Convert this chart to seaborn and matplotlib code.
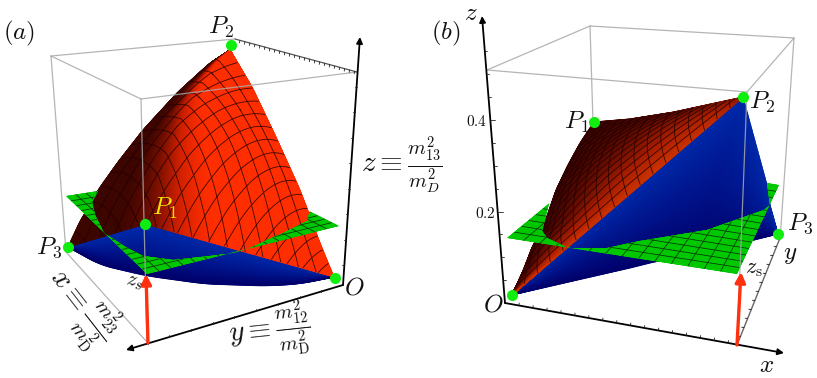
import numpy as np
import matplotlib
matplotlib.use("Agg")
import matplotlib.pyplot as plt
from matplotlib.colors import LinearSegmentedColormap
from matplotlib.patches import Polygon
import pandas as pd
import seaborn as sns

# ---------- picture read-offs, panel (a) ----------
a_left_edge = [(230, 50), (210, 63), (178, 92), (143, 130), (118, 162), (98, 190), (90, 205), (80, 221), (68, 247)]
a_right_edge = [(230, 50), (252, 87), (275, 135), (300, 190), (308, 211), (320, 243), (334, 277)]
a_front_edge = [(68, 247), (145, 224), (334, 277)]
a_blue_arc = [(68, 247), (100, 265), (147, 276), (205, 284), (267, 286), (300, 284), (334, 277)]
a_green_corners = [(66, 196), (225, 171), (147, 274), (339, 226)]  # left, back, front, right
a_green_visible = [(66, 196), (98, 191), (92, 202), (95, 215), (104, 233), (127, 248), (143, 256), (173, 260),
                   (210, 256), (235, 253), (250, 248), (283, 233), (307, 221), (310, 211), (339, 226), (147, 274)]
a_points = {"P1": (145, 224), "P2": (231, 45), "P3": (68, 247), "O": (335, 278)}
a_box = [[(51, 56), (141, 99)], [(51, 56), (235, 39)], [(141, 99), (357, 72)],
         [(51, 56), (66, 252)], [(141, 99), (147, 342)], [(66, 252), (147, 342)]]
a_back_axis = [(235, 39), (357, 72)]
a_origin = (343, 285)
a_z_tip = (360, 37)
a_y_tip = (126, 350)

# ---------- picture read-offs, panel (b) ----------
b_left_edge = [(512, 295), (523, 271), (533, 245), (542, 231), (556, 190), (568, 165), (580, 143), (594, 122)]
b_diagonal = [(512, 295), (743, 97)]
b_top_edge = [(594, 122), (630, 119), (674, 112), (743, 97)]
b_blue_top = [(512, 295), (743, 97), (767, 185), (770, 205), (778, 234)]
b_blue_low = [(512, 295), (630, 268), (650, 263), (754, 240), (778, 234)]
b_green_corners = [(507, 238), (608, 156), (737, 274), (779, 185)]
b_green_visible = [(507, 238), (549, 203), (542, 231), (547, 238), (568, 248), (607, 248), (640, 241), (707, 230),
                   (764, 210), (770, 205), (767, 183), (779, 185), (737, 274)]
b_points = {"O": (512, 295), "P1": (594, 122), "P2": (743, 97), "P3": (778, 234)}
b_box = [[(487, 70), (590, 26)], [(590, 26), (794, 38)], [(794, 38), (747, 92)], [(487, 70), (747, 92)],
         [(590, 26), (593, 122)], [(794, 38), (780, 240)], [(747, 92), (737, 345)]]
b_y_axis = [(737, 345), (780, 238)]
b_origin = (505, 303)
b_z_tip = (482, 16)
b_x_tip = (784, 353)
b_z_major = [0.2, 0.4]
b_z_minor = [0.05, 0.1, 0.15, 0.25, 0.3, 0.35, 0.45, 0.5, 0.55]

RED_A = ["#3c0500", "#7a1000", "#d02000", "#ff2e00"]
RED_B = ["#3a0300", "#701000", "#a81e00", "#c83000"]
BLUE = ["#00006a", "#00148c", "#0028a8"]
GREEN = "#00c800"
DOT = "#10ee10"
ARROW = "#ff3010"
GRAY = "#a8a8a8"

sns.set_theme(style="white")
plt.rcParams["mathtext.fontset"] = "cm"
plt.rcParams["font.family"] = ["DejaVu Serif"]

fig = plt.figure(figsize=(8.17, 3.78), dpi=100, facecolor="white")
ax = fig.add_axes([0, 0, 1, 1])
ax.set_xlim(0, 817)
ax.set_ylim(378, 0)
ax.axis("off")


def curve(points, n, smooth=0):
    p = np.asarray(points, float)
    s = np.r_[0, np.cumsum(np.hypot(*np.diff(p, axis=0).T))]
    t = np.linspace(0, s[-1], n)
    out = np.c_[np.interp(t, s, p[:, 0]), np.interp(t, s, p[:, 1])]
    if smooth:
        k = np.ones(2 * smooth + 1) / (2 * smooth + 1)
        pad = np.r_[2 * out[0] - out[smooth:0:-1], out, 2 * out[-1] - out[-2:-smooth - 2:-1]]
        out = np.c_[np.convolve(pad[:, 0], k, "valid"), np.convolve(pad[:, 1], k, "valid")]
    return out


def patch(far, cl, cr, bulge, n=241):
    """Coons patch that closes to one apex at v = 0, with its inside pushed by bulge."""
    E, L, R = curve(far, n), curve(cl, n, 6), curve(cr, n, 6)
    u = np.linspace(0, 1, n)[:, None]
    v = np.linspace(0, 1, n)[None, :]
    A, B = E[0], E[-1]
    hump = 27 * u * (1 - u) * v ** 2 * (1 - v)
    X = v * E[:, 0, None] + (1 - u) * L[:, 0][None, :] + u * R[:, 0][None, :] - (1 - u) * v * A[0] - u * v * B[0] + hump * bulge[0]
    Y = v * E[:, 1, None] + (1 - u) * L[:, 1][None, :] + u * R[:, 1][None, :] - (1 - u) * v * A[1] - u * v * B[1] + hump * bulge[1]
    U, V = np.meshgrid(u.ravel(), v.ravel(), indexing="ij")
    return X, Y, U, V


def levels(n):
    return np.linspace(0, 1, n + 2)[1:-1]


def draw_red(far, cl, cr, shade, colors, n1, n2, bulge, power=1.0, z=3):
    X, Y, U, V = patch(far, cl, cr, bulge)
    cmap = LinearSegmentedColormap.from_list("r", colors)
    ax.pcolormesh(X, Y, shade(U, V), cmap=cmap, vmin=0, vmax=1, shading="gouraud", zorder=z)
    ax.contour(X, Y, U ** power * V, levels=levels(n1), colors="#200000", linewidths=0.6, alpha=0.85, zorder=z + 0.1)
    ax.contour(X, Y, (1 - U) * V, levels=levels(n2), colors="#200000", linewidths=0.6, alpha=0.85, zorder=z + 0.1)


def draw_blue(top, low, shade, smooth=0, z=2):
    T, B = curve(top, 200), curve(low, 200, smooth)
    w = np.linspace(0, 1, 40)[None, :, None]
    G = T[:, None, :] * (1 - w) + B[:, None, :] * w
    W = np.broadcast_to(w[..., 0], G.shape[:2])
    cmap = LinearSegmentedColormap.from_list("b", BLUE)
    ax.pcolormesh(G[..., 0], G[..., 1], shade(W), cmap=cmap, vmin=0, vmax=1, shading="gouraud", zorder=z)


def draw_green(corners, visible, n, z=4):
    L, B, F, R = [np.array(c, float) for c in corners]
    s = np.linspace(0, 1, 81)
    S, T = np.meshgrid(s, s, indexing="ij")
    X = (1 - S) * (1 - T) * L[0] + S * (1 - T) * B[0] + (1 - S) * T * F[0] + S * T * R[0]
    Y = (1 - S) * (1 - T) * L[1] + S * (1 - T) * B[1] + (1 - S) * T * F[1] + S * T * R[1]
    clip = Polygon(visible, closed=True, transform=ax.transData, fc="none", ec="none")
    ax.add_patch(clip)
    m = ax.pcolormesh(X, Y, np.zeros_like(X), cmap=LinearSegmentedColormap.from_list("g", [GREEN, GREEN]),
                      shading="gouraud", zorder=z)
    m.set_clip_path(clip)
    for fld in (S, T):
        c = ax.contour(X, Y, fld, levels=levels(n), colors="#063306", linewidths=0.55, zorder=z + 0.1)
        c.set_clip_path(clip)


def segments(segs, color=GRAY, lw=0.9, alpha=0.85, z=5):
    for i, seg in enumerate(segs):
        d = pd.DataFrame(seg, columns=["x", "y"])
        sns.lineplot(data=d, x="x", y="y", sort=False, estimator=None, color=color, lw=lw, alpha=alpha,
                     ax=ax, zorder=z, legend=False)


def arrow(a, b, color="black", lw=1.3, ms=9, z=6):
    ax.annotate("", xy=b, xytext=a, zorder=z,
                arrowprops=dict(arrowstyle="-|>", color=color, lw=lw, mutation_scale=ms, shrinkA=0, shrinkB=0))


def ticks(a, b, fracs, length, side):
    a, b = np.array(a, float), np.array(b, float)
    for f in fracs:
        p = a + (b - a) * f
        segments([[tuple(p), tuple(p + np.array(side) * length)]], color="#222222", lw=0.6, alpha=1, z=6)


def dots(pts):
    d = pd.DataFrame(list(pts.values()), columns=["x", "y"])
    sns.scatterplot(data=d, x="x", y="y", color=DOT, s=64, linewidth=0, ax=ax, zorder=7, legend=False)


def smoothstep(t):
    t = np.clip(t, 0, 1)
    return t * t * (3 - 2 * t)


# ---------- panel (a) ----------
draw_blue(a_front_edge, a_blue_arc, lambda w: 1 - w ** 1.2, smooth=10)
draw_red(a_front_edge, a_left_edge, a_right_edge,
         lambda u, v: smoothstep((u - 0.02 - 0.14 * v) / (0.22 + 0.2 * v)), RED_A, 16, 14, (8, -28))
draw_green(a_green_corners, a_green_visible, 15)
segments(a_box)
segments([a_back_axis], color="#555555", lw=0.9, alpha=1)
ticks(a_back_axis[0], a_back_axis[1], np.linspace(0.04, 0.98, 24), 2.5, (-0.15, 1))
arrow(a_origin, a_z_tip)
arrow(a_origin, a_y_tip)
ticks(a_origin, a_z_tip, np.linspace(0.08, 0.8, 8), 2, (-1, 0))
ticks(a_origin, a_y_tip, np.linspace(0.1, 0.9, 9), 2, (0, -1))
arrow((148, 343), (146, 274), color=ARROW, lw=2.4, ms=15)
dots(a_points)

T = dict(color="#111111", ha="center", va="center", zorder=8)
ax.text(19, 33, r"$(a)$", fontsize=18, **T)
ax.text(221, 27, r"$P_2$", fontsize=18, **T)
ax.text(165, 208, r"$P_1$", fontsize=18, color="#f2e600", ha="center", va="center", zorder=8)
ax.text(49, 248, r"$P_3$", fontsize=18, **T)
ax.text(354, 288, r"$O$", fontsize=18, **T)
ax.text(134, 282, r"$z_s$", fontsize=15, rotation=-10, **T)
ax.text(402, 165, r"$z\equiv\frac{m_{13}^{2}}{m_{D}^{2}}$", fontsize=21, **T)
ax.text(270, 331, r"$y\equiv\frac{m_{12}^{2}}{m_{\mathrm{D}}^{2}}$", fontsize=21, rotation=6, **T)
ax.text(80, 307, r"$x\equiv\frac{m_{23}^{2}}{m_{\mathrm{D}}^{2}}$", fontsize=21, rotation=-52, **T)

# ---------- panel (b) ----------
draw_blue(b_blue_top, b_blue_low, lambda w: (1 - w) ** 0.9)
draw_red(b_top_edge, b_left_edge, b_diagonal,
         lambda u, v: np.clip(u ** 2 * (1 - 0.55 * v ** 10) + 0.05, 0, 1), RED_B, 17, 17, (-6, -10), power=0.6)
draw_green(b_green_corners, b_green_visible, 13)
segments(b_box)
segments([b_y_axis], color="#666666", lw=1.0, alpha=1)
arrow(b_origin, b_z_tip)
arrow(b_origin, b_x_tip)
b_axis_per_unit = (303 - 120) / 0.4
for vals, length, lw in ((b_z_major, 5, 0.8), (b_z_minor, 2.5, 0.6)):
    ticks(b_origin, b_z_tip, [v * b_axis_per_unit / (b_origin[1] - b_z_tip[1]) for v in vals], length, (1, 0))
ticks(b_origin, b_x_tip, np.linspace(0.05, 0.8, 16), 2.5, (0.1, -1))
ticks(b_y_axis[0], b_y_axis[1], np.linspace(0.08, 0.92, 11), 2.5, (-1, -0.1))
arrow((737, 345), (741, 272), color=ARROW, lw=2.4, ms=15)
dots(b_points)

ax.text(446, 33, r"$(b)$", fontsize=18, **T)
ax.text(471, 13, r"$z$", fontsize=18, **T)
ax.text(477, 121, r"$0.4$", fontsize=11, **T)
ax.text(485, 214, r"$0.2$", fontsize=11, **T)
ax.text(577, 122, r"$P_1$", fontsize=18, **T)
ax.text(762, 102, r"$P_2$", fontsize=18, **T)
ax.text(800, 224, r"$P_3$", fontsize=18, **T)
ax.text(493, 305, r"$O$", fontsize=18, **T)
ax.text(754, 268, r"$z_{\mathrm{s}}$", fontsize=16, **T)
ax.text(790, 255, r"$y$", fontsize=18, **T)
ax.text(767, 366, r"$x$", fontsize=18, **T)

ax.set_xlim(0, 817)
ax.set_ylim(378, 0)
ax.set_xlabel("")
ax.set_ylabel("")
fig.savefig("out.png", dpi=100, facecolor="white")
